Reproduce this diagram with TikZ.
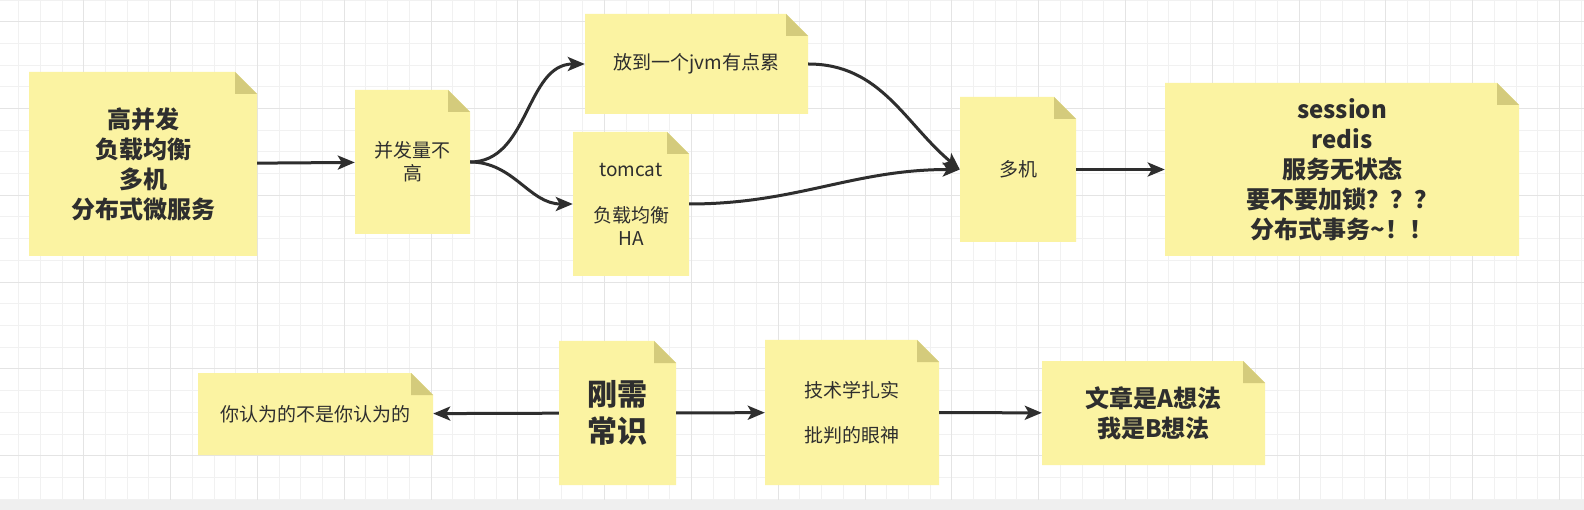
\documentclass[tikz,border=0pt]{standalone}
\usepackage{fontspec}
\newfontfamily\cjk{Noto Sans CJK SC}
\usetikzlibrary{arrows.meta}
\definecolor{notebg}{HTML}{FBF3A2}
\definecolor{notefold}{HTML}{D4CB7C}
\definecolor{ink}{HTML}{2E2E2E}
\definecolor{gridminor}{HTML}{F1F1F1}
\definecolor{gridmajor}{HTML}{E4E4E4}
\definecolor{barcol}{HTML}{EFEFEF}

\begin{document}
\begin{tikzpicture}[x=1pt, y=1pt,
  >={Stealth[length=17pt,width=14pt,inset=4pt]},
  arr/.style={->, line width=3pt, draw=ink},
  note/.style={inner sep=0pt, align=center, text=ink,
    font=\cjk\fontsize{19}{23}\selectfont,
    path picture={
      \fill[notebg] (path picture bounding box.south west)
        -- (path picture bounding box.north west)
        -- ([xshift=-22pt]path picture bounding box.north east)
        -- ([yshift=-22pt]path picture bounding box.north east)
        -- (path picture bounding box.south east) -- cycle;
      \fill[notefold] ([xshift=-22pt]path picture bounding box.north east)
        -- ([shift={(-22pt,-22pt)}]path picture bounding box.north east)
        -- ([yshift=-22pt]path picture bounding box.north east) -- cycle;
    }},
  bignote/.style={note, font=\cjk\bfseries\fontsize{24}{30}\selectfont}]

\useasboundingbox (0,0) rectangle (1584,-510);

% Background
% Grid paper and the strip along the bottom
  \fill[white] (0,0) rectangle (1584,-510);
  \begin{scope}
    \clip (0,0) rectangle (1584,-500);
    \draw[gridminor, line width=1pt, step=21.7pt, shift={(-3,0)}] (0,0) grid (1600,-520);
    \draw[gridmajor, line width=1pt, step=86.8pt, shift={(-3,-21.7)}] (0,86.8) grid (1650,-520);
  \end{scope}
  \fill[barcol] (0,-500) rectangle (1584,-510);

% Upper row
% Notes
  \node[bignote, minimum width=228pt, minimum height=184pt] (gaobingfa) at (143,-164)
    {高并发\\负载均衡\\多机\\分布式微服务};
  \node[note, minimum width=115pt, minimum height=144pt] (bingfaliang) at (412.5,-162)
    {并发量不\\高};
  \node[note, minimum width=223pt, minimum height=100pt] (jvm) at (696.5,-64)
    {放到一个jvm有点累};
  \node[note, minimum width=116pt, minimum height=144pt] (tomcat) at (631,-204)
    {tomcat\\[23pt]负载均衡\\HA};
  \node[note, minimum width=116pt, minimum height=145pt] (duoji) at (1018,-169.5)
    {多机};
  \node[bignote, minimum width=354pt, minimum height=173pt] (session) at (1342,-169.5)
    {session\\redis\\服务无状态\\要不要加锁？？？\\分布式事务\textasciitilde！！};

% Connectors
  \draw[arr] (gaobingfa) -- (bingfaliang);
  \draw[arr] (bingfaliang.east) to[out=0, in=180] (jvm.west);
  \draw[arr] (bingfaliang.east) to[out=0, in=180] (tomcat.west);
  \draw[arr] (jvm.east) to[out=0, in=140] (duoji.west);
  \draw[arr] (tomcat.east) to[out=0, in=180] (duoji.west);
  \draw[arr] (duoji) -- (session);

% Lower row
% Notes
  \node[note, minimum width=235pt, minimum height=82pt] (renwei) at (315.5,-414)
    {你认为的不是你认为的};
  \node[note, font=\cjk\bfseries\fontsize{30}{37}\selectfont,
    minimum width=117pt, minimum height=144pt] (gangxu) at (617.5,-413)
    {刚需\\常识};
  \node[note, minimum width=174pt, minimum height=145pt] (jishu) at (852,-412.5)
    {技术学扎实\\[22pt]批判的眼神};
  \node[bignote, minimum width=223pt, minimum height=104pt] (wenzhang) at (1153.5,-413)
    {文章是A想法\\我是B想法};

% Connectors
  \draw[arr] (gangxu) -- (renwei);
  \draw[arr] (gangxu) -- (jishu);
  \draw[arr] (jishu) -- (wenzhang);
\end{tikzpicture}
\end{document}
